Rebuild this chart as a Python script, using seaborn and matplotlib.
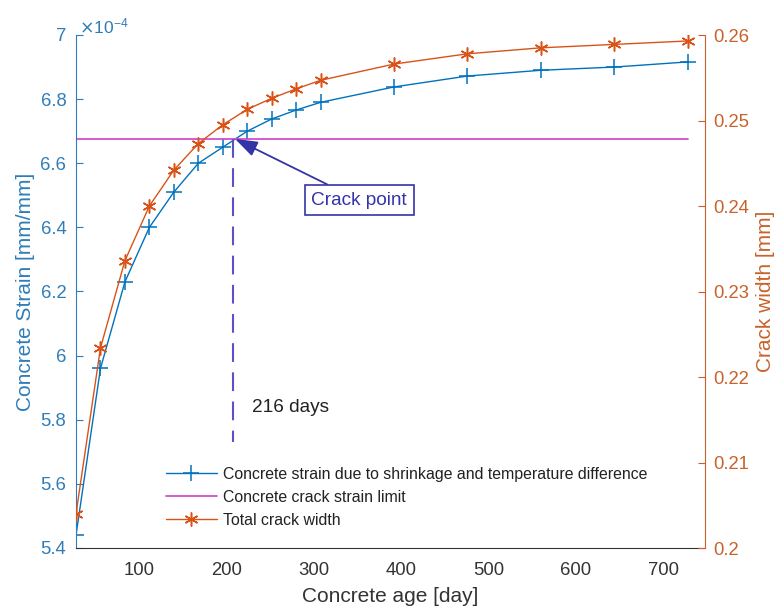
import numpy as np
import pandas as pd
import matplotlib
matplotlib.use("Agg")
import matplotlib.pyplot as plt
import seaborn as sns
from matplotlib.ticker import FuncFormatter, FixedLocator
from matplotlib.lines import Line2D

# ---------------- data ----------------
age_days = [28, 56, 84, 112, 140, 168, 196, 224, 252, 280, 308, 392, 476, 560, 644, 728]
strain = [5.44e-4, 5.96e-4, 6.23e-4, 6.40e-4, 6.51e-4, 6.60e-4, 6.65e-4, 6.70e-4,
          6.738e-4, 6.766e-4, 6.79e-4, 6.838e-4, 6.872e-4, 6.89e-4, 6.90e-4, 6.916e-4]
crack_width = [0.2040, 0.2234, 0.2336, 0.2400, 0.2442, 0.2473, 0.2495, 0.2513,
               0.2526, 0.2537, 0.2547, 0.2566, 0.2578, 0.2585, 0.2589, 0.2593]
limit_days = [28, 728]
limit_strain = [6.676e-4, 6.676e-4]
crack_day = 208
crack_line_bottom = 5.73e-4
crack_label = "216 days"
x_ticks = [100, 200, 300, 400, 500, 600, 700]
y_left_ticks = [5.4e-4, 5.6e-4, 5.8e-4, 6.0e-4, 6.2e-4, 6.4e-4, 6.6e-4, 6.8e-4, 7.0e-4]
y_right_ticks = [0.20, 0.21, 0.22, 0.23, 0.24, 0.25, 0.26]

labels = ["Concrete strain due to shrinkage and temperature difference",
          "Concrete crack strain limit",
          "Total crack width"]

df = pd.DataFrame({"age": age_days, "strain": strain, "width": crack_width})
df_lim = pd.DataFrame({"age": limit_days, "strain": limit_strain})

# ---------------- style ----------------
sns.set_style("white")
plt.rcParams['font.family'] = ['Liberation Sans', 'DejaVu Sans']

BLUE = "#0072BD"
ORANGE = "#D95319"
MAGENTA = "#D040C8"
DASH = "#6050C8"
NAVY = "#3434A8"
AXBLUE = "#2F7DB8"
AXORANGE = "#C8622A"
GRAY = "#333333"

fig = plt.figure(figsize=(7.82, 6.12), dpi=100)
ax = fig.add_axes([76/782, 1-548/612, (705-76)/782, (548-35)/612])
ax2 = ax.twinx()

sns.lineplot(data=df, x="age", y="strain", ax=ax, color=BLUE, marker="+",
             markersize=11, markeredgewidth=1.1, markeredgecolor=BLUE, linewidth=1.0)
sns.lineplot(data=df_lim, x="age", y="strain", ax=ax, color=MAGENTA, linewidth=1.2)
ax.plot([crack_day, crack_day], [limit_strain[0], crack_line_bottom], color=DASH,
        linestyle=(0, (9, 5)), linewidth=1.5)
sns.lineplot(data=df, x="age", y="width", ax=ax2, color=ORANGE, marker=(6, 2, 0),
             markersize=10, markeredgewidth=1.1, markeredgecolor=ORANGE, linewidth=1.0)

ax.set_xlim(28, 748)
ax.set_ylim(5.4e-4, 7.0e-4)
ax2.set_ylim(0.20, 0.26)

ax.xaxis.set_major_locator(FixedLocator(x_ticks))
ax.yaxis.set_major_locator(FixedLocator(y_left_ticks))
ax.yaxis.set_major_formatter(FuncFormatter(lambda v, p: f"{v*1e4:g}"))
ax2.yaxis.set_major_locator(FixedLocator(y_right_ticks))
ax2.yaxis.set_major_formatter(FuncFormatter(lambda v, p: f"{v:g}"))

for a in (ax, ax2):
    a.spines['top'].set_visible(False)
ax.spines['right'].set_visible(False)
ax.spines['left'].set_color(AXBLUE)
ax.spines['bottom'].set_color(GRAY)
ax2.spines['left'].set_visible(False)
ax2.spines['bottom'].set_visible(False)
ax2.spines['right'].set_color(AXORANGE)

ax.tick_params(axis='x', direction='in', length=5, colors=GRAY, labelsize=13.3, pad=10)
ax.tick_params(axis='y', direction='in', length=5, colors=AXBLUE, labelsize=13.3, pad=7)
ax2.tick_params(axis='y', direction='in', length=5, colors=AXORANGE, labelsize=13.3, pad=6)

ax.set_xlabel("Concrete age [day]", fontsize=15, color=GRAY, labelpad=6)
ax.set_ylabel("Concrete Strain [mm/mm]", fontsize=15, color=AXBLUE, labelpad=4)
ax2.set_ylabel("Crack width [mm]", fontsize=15, color=AXORANGE, labelpad=5)

ax.text(0.005, 0.997, r"$\times\mathregular{10^{-4}}$", transform=ax.transAxes,
        fontsize=12.5, color=AXBLUE, ha='left', va='bottom')

ax.text(229, 5.837e-4, crack_label, fontsize=13.7, color="#222222", ha='left', va='center')

ax2.annotate("Crack point", xy=(210, 6.676e-4), xycoords=ax.transData,
             xytext=(352, 6.485e-4), textcoords=ax.transData,
             fontsize=13.7, color=NAVY, ha='center', va='center',
             bbox=dict(boxstyle='square,pad=0.35', fc='white', ec=NAVY, lw=1.2),
             arrowprops=dict(arrowstyle='-|>,head_length=1.0,head_width=0.35',
                             color=NAVY, lw=1.3, shrinkA=0, shrinkB=0))

handles = [Line2D([], [], color=BLUE, marker='+', markersize=11, markeredgewidth=1.1, lw=1.0),
           Line2D([], [], color=MAGENTA, lw=1.2),
           Line2D([], [], color=ORANGE, marker=(6, 2, 0), markersize=10, markeredgewidth=1.1, lw=1.0)]
leg = ax2.legend(handles, labels, loc='upper left', bbox_to_anchor=(166/782, 1-467/612),
                 bbox_transform=fig.transFigure, frameon=False, fontsize=11.4,
                 handlelength=3.2, handletextpad=0.38, labelspacing=0.5,
                 borderpad=0, borderaxespad=0)
for t in leg.get_texts():
    t.set_color("#222222")

fig.savefig("out.png", dpi=100)
